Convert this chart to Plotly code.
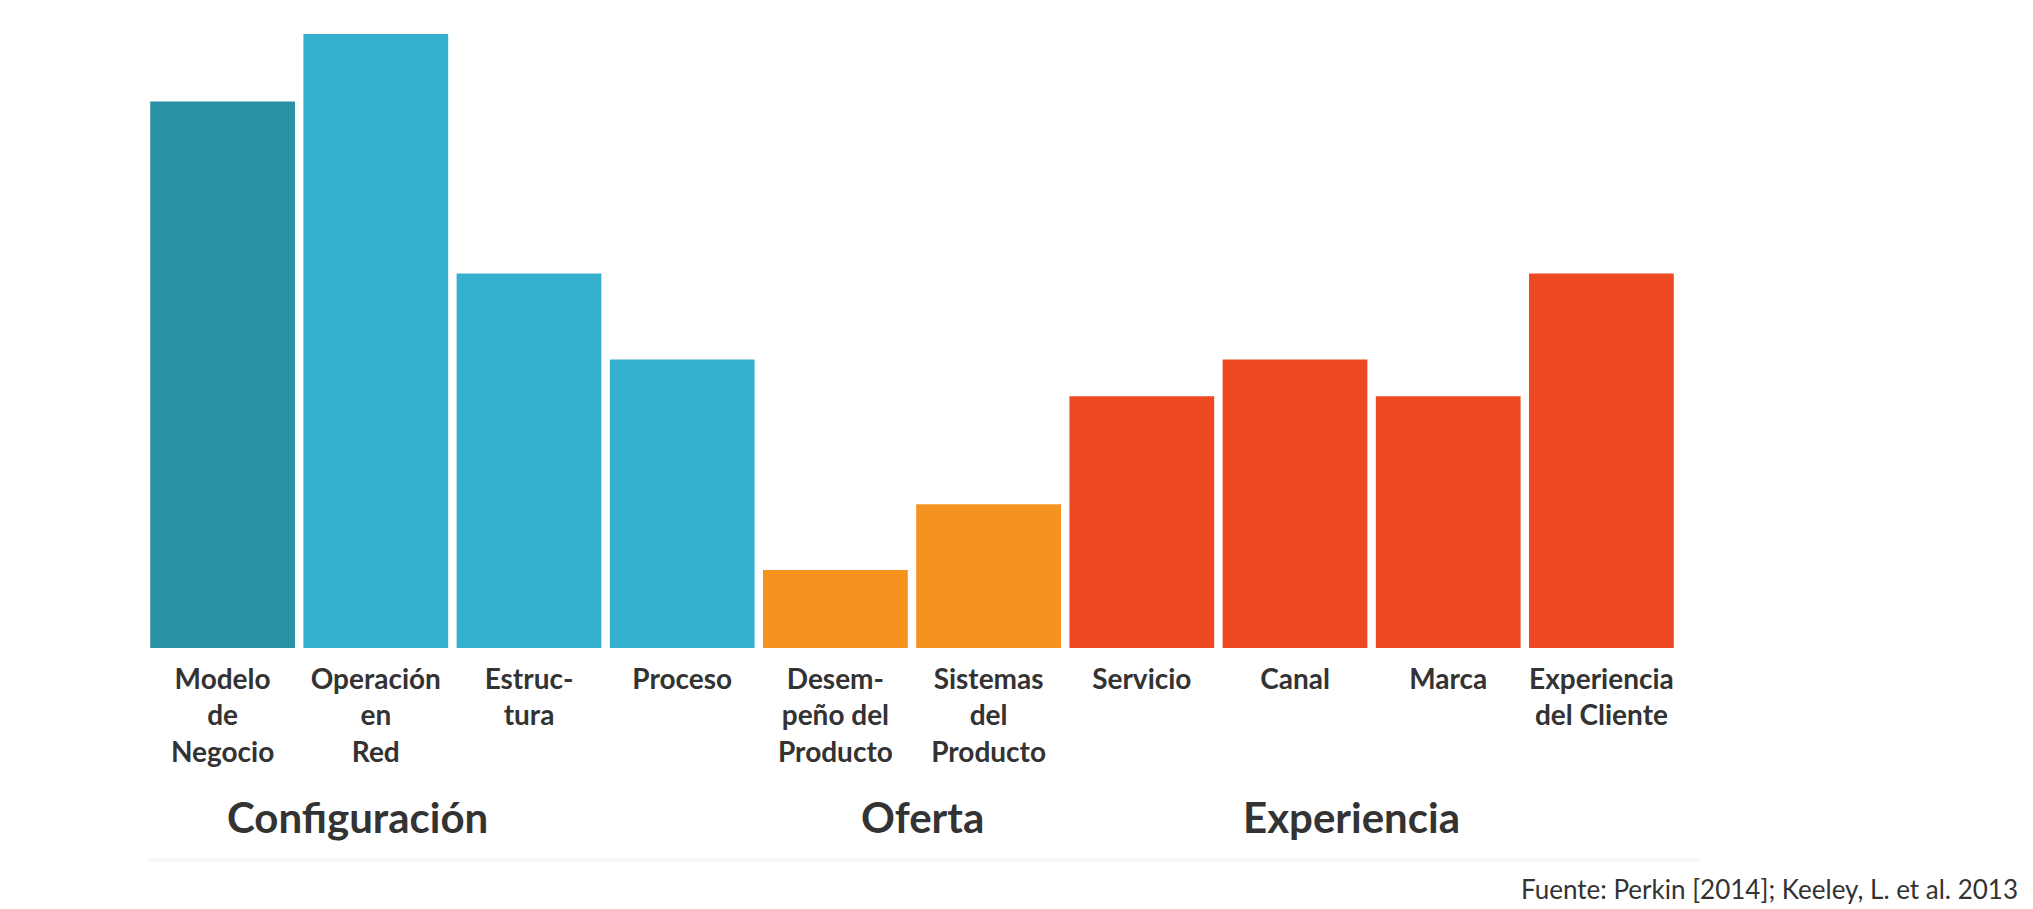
import plotly.graph_objects as go

categories = ["Modelo<br>de<br>Negocio", "Operación<br>en<br>Red", "Estruc-<br>tura", "Proceso",
              "Desem-<br>peño del<br>Producto", "Sistemas<br>del<br>Producto",
              "Servicio", "Canal", "Marca", "Experiencia<br>del Cliente"]
values = [89, 100, 61, 47, 12.7, 23.4, 41, 47, 41, 61]
bar_colors = ["#2A92A7", "#34B0CE", "#34B0CE", "#34B0CE",
              "#F6921E", "#F6921E",
              "#EF4923", "#EF4923", "#EF4923", "#EF4923"]
groups = ["Configuración", "Oferta", "Experiencia"]
group_x = [0.88, 4.57, 7.37]
source = "Fuente: Perkin [2014]; Keeley, L. et al. 2013"

W, H = 2033, 909
L, R, T, B = 146, 355, 34, 261
plot_h = H - T - B
plot_w = W - L - R

fig = go.Figure(go.Bar(
    x=list(range(len(categories))), y=values,
    marker=dict(color=bar_colors, line=dict(width=0)),
    width=0.945,
    hoverinfo="skip",
))

def py(pix):
    return (H - B - pix) / plot_h

def px(pix):
    return (pix - L) / plot_w

annotations = []
for g, gx in zip(groups, group_x):
    annotations.append(dict(text=g, x=gx, xref="x", y=py(817), yref="paper",
                            xanchor="center", yanchor="middle", showarrow=False,
                            font=dict(family="Lato", size=42, color="#333333", weight="bold")))
annotations.append(dict(text=source, x=px(2020), xref="paper", y=py(889), yref="paper",
                        xanchor="right", yanchor="middle", showarrow=False,
                        font=dict(family="Lato", size=26, color="#333333")))

fig.update_layout(
    width=W, height=H,
    margin=dict(l=L, r=R, t=T, b=B, pad=0),
    paper_bgcolor="white", plot_bgcolor="white",
    showlegend=False,
    annotations=annotations,
    shapes=[dict(type="line", xref="paper", yref="paper", x0=px(147), x1=px(1699),
                 y0=py(860), y1=py(860), line=dict(color="#f6f6f6", width=3))],
    xaxis=dict(range=[-0.5, len(categories) - 0.5], tickmode="array",
               tickvals=list(range(len(categories))), ticktext=categories,
               showgrid=False, zeroline=False, showline=False, ticks="",
               ticklabelstandoff=12,
               tickfont=dict(family="Lato", size=28, color="#333333", weight="bold")),
    yaxis=dict(range=[0, 100], visible=False, showgrid=False, zeroline=False),
)

fig.write_html("out.html")
